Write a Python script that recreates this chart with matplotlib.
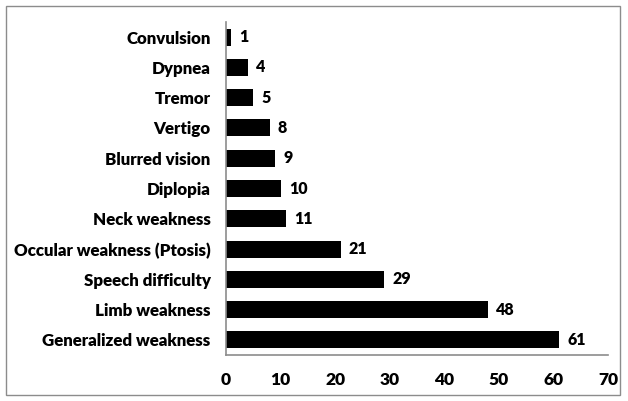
import matplotlib as mpl
mpl.use('Agg')
import matplotlib.pyplot as plt
from matplotlib.patches import Rectangle

symptoms = ["Convulsion", "Dypnea", "Tremor", "Vertigo", "Blurred vision",
            "Diplopia", "Neck weakness", "Occular weakness (Ptosis)",
            "Speech difficulty", "Limb weakness", "Generalized weakness"]
counts = [1, 4, 5, 8, 9, 10, 11, 21, 29, 48, 61]
xticks = [0, 10, 20, 30, 40, 50, 60, 70]

plt.rcParams['font.family'] = ['Lato', 'DejaVu Sans']
plt.rcParams['font.weight'] = 'heavy'

fig = plt.figure(figsize=(6.28, 4.01), dpi=100)
ax = fig.add_axes([226 / 628, 1 - 355 / 401, (608 - 226) / 628, (355 - 22) / 401])

ypos = list(range(len(symptoms)))
ax.barh(ypos, counts, height=0.56, color='black')
for y, v in zip(ypos, counts):
    ax.text(v + 1.5, y, str(v), va='center', ha='left', fontsize=11.5, fontweight='heavy')

ax.set_yticks(ypos)
ax.set_yticklabels(symptoms, fontsize=12.2, fontweight='heavy')
ax.set_ylim(len(symptoms) - 0.5, -0.5)
ax.set_xlim(0, 70)
ax.set_xticks(xticks)
ax.set_xticklabels([str(t) for t in xticks], fontsize=12.5, fontweight='heavy')
ax.tick_params(axis='y', length=0, pad=11)
ax.tick_params(axis='x', length=0, pad=12)

for s in ['top', 'right']:
    ax.spines[s].set_visible(False)
for s in ['left', 'bottom']:
    ax.spines[s].set_color('#8c8c8c')
    ax.spines[s].set_linewidth(1.2)

fig.patches.append(Rectangle((6 / 628, 6 / 401), (620 - 6) / 628, (395 - 6) / 401,
                             transform=fig.transFigure, fill=False,
                             edgecolor='#8c8c8c', linewidth=1))

plt.savefig("out.png", dpi=100)
